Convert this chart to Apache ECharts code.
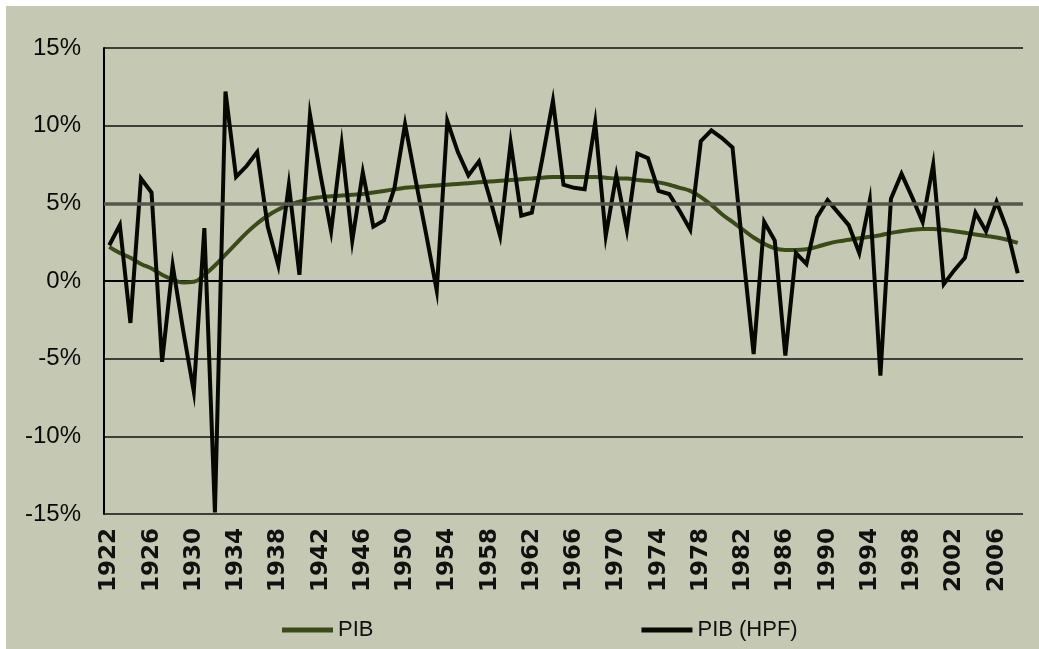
<!DOCTYPE html>
<html>
<head>
<meta charset="utf-8">
<script src="https://cdn.jsdelivr.net/npm/echarts@6/dist/echarts.min.js"></script>
<style>
html,body{margin:0;padding:0;background:#ffffff;width:1039px;height:649px;overflow:hidden;}
#c{position:absolute;left:6px;top:6px;width:1033px;height:643px;background:#c5c8b3;}
</style>
</head>
<body>
<div id="c"></div>
<script>
const years = [];
for (let y = 1922; y <= 2008; y++) years.push(String(y));

const pibTrend = [
  2.2, 1.8, 1.5, 1.1, 0.8, 0.4, 0.1, -0.1, -0.05, 0.4,
  1.0, 1.7, 2.4, 3.1, 3.7, 4.2, 4.6, 4.9, 5.1, 5.3,
  5.4, 5.45, 5.5, 5.55, 5.6, 5.7, 5.8, 5.9, 6.0, 6.05,
  6.1, 6.15, 6.2, 6.25, 6.3, 6.35, 6.4, 6.45, 6.5, 6.55,
  6.6, 6.65, 6.7, 6.7, 6.7, 6.7, 6.7, 6.65, 6.6, 6.6,
  6.5, 6.45, 6.35, 6.2, 6.0, 5.8, 5.4, 4.9, 4.3, 3.8,
  3.3, 2.8, 2.4, 2.1, 2.0, 2.0, 2.05, 2.2, 2.4, 2.55,
  2.65, 2.75, 2.85, 2.95, 3.1, 3.2, 3.3, 3.35, 3.35, 3.3,
  3.2, 3.1, 3.0, 2.9, 2.8, 2.65, 2.45
];

const pibHpf = [
  2.3, 3.6, -2.7, 6.6, 5.7, -5.2, 1.0, -3.2, -7.1, 3.4,
  -14.9, 12.2, 6.7, 7.4, 8.3, 3.5, 1.0, 6.2, 0.4, 10.7,
  6.8, 3.2, 8.8, 2.6, 7.0, 3.5, 3.9, 6.0, 10.1, 6.5,
  3.0, -0.6, 10.3, 8.3, 6.8, 7.7, 5.4, 2.9, 8.9, 4.2,
  4.4, 7.9, 11.6, 6.2, 6.0, 5.9, 10.2, 2.9, 6.8, 3.3,
  8.2, 7.9, 5.8, 5.6, 4.5, 3.3, 9.0, 9.7, 9.2, 8.6,
  1.8, -4.7, 3.8, 2.6, -4.8, 1.8, 1.1, 4.1, 5.2, 4.4,
  3.6, 1.8, 5.2, -6.1, 5.3, 6.9, 5.4, 3.8, 7.5, -0.2,
  0.7, 1.5, 4.4, 3.2, 5.1, 3.3, 0.5
];

const seriesNames = ['PIB', 'PIB (HPF)'];
const yMin = -15, yMax = 15, yStep = 5;

const chart = echarts.init(document.getElementById('c'), null, {renderer: 'canvas'});
chart.setOption({
  animation: false,
  backgroundColor: '#c5c8b3',
  grid: {left: 98, right: 16, top: 42, bottom: 135, containLabel: false},
  legend: {
    data: seriesNames,
    left: 271,
    top: 608,
    icon: 'rect',
    itemWidth: 51,
    itemHeight: 5,
    itemGap: 268,
    textStyle: {fontFamily: 'Liberation Sans', fontSize: 22, color: '#111'}
  },
  xAxis: {
    type: 'category',
    data: years,
    boundaryGap: true,
    axisLine: {show: true, lineStyle: {color: '#000', width: 2}},
    axisTick: {show: false},
    axisLabel: {
      interval: 3,
      rotate: 90,
      margin: 14,
      fontFamily: 'DejaVu Sans',
      fontWeight: 'bold',
      fontSize: 23,
      color: '#111'
    },
    splitLine: {show: false}
  },
  yAxis: {
    type: 'value',
    min: yMin, max: yMax, interval: yStep,
    axisLine: {show: true, lineStyle: {color: '#000', width: 2}},
    axisTick: {show: false},
    axisLabel: {
      formatter: '{value}%',
      margin: 23,
      fontFamily: 'Liberation Sans',
      fontSize: 24,
      color: '#0a0a0a'
    },
    splitLine: {show: true, lineStyle: {color: '#111', width: 1.6}}
  },
  series: [
    {
      name: seriesNames[0],
      type: 'line',
      data: pibTrend,
      smooth: true,
      showSymbol: false,
      color: '#3a4a18',
      lineStyle: {color: '#3a4a18', width: 4},
      markLine: {
        silent: true,
        symbol: ['none', 'none'],
        label: {show: false},
        lineStyle: {color: '#55574a', width: 3.5, type: 'solid'},
        data: [{yAxis: 5}]
      },
      z: 2
    },
    {
      name: seriesNames[1],
      type: 'line',
      data: pibHpf,
      showSymbol: false,
      color: '#060900',
      lineStyle: {color: '#060900', width: 4, join: 'miter'},
      z: 3
    }
  ]
});
</script>
</body>
</html>
